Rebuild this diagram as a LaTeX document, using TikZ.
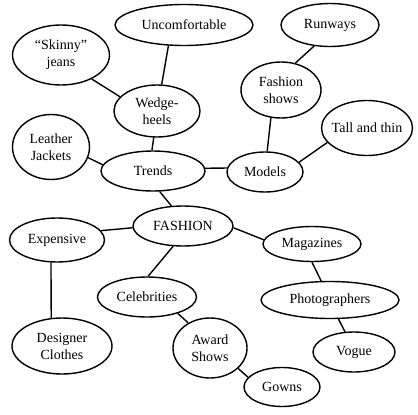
\documentclass[tikz,border=0pt]{standalone}
\usepackage{fontspec}
\setmainfont{Liberation Serif}
\usetikzlibrary{shapes.geometric}

\begin{document}
\begin{tikzpicture}[x=1pt, y=-1pt, line width=1.4pt,
        bubble/.style={ellipse, draw, inner sep=0pt, align=center,
            font=\fontsize{14}{17}\selectfont}]
            \useasboundingbox (0,0) rectangle (418,415);
            % trends branch
            \node[bubble, minimum width=138pt, minimum height=41pt] (unc) at (184,25) {Uncomfortable};
            \node[bubble, minimum width=97pt, minimum height=60pt] (skinny) at (61,55) {“Skinny”\\jeans};
            \node[bubble, minimum width=86pt, minimum height=52pt] (wedge) at (157,111) {Wedge-\\heels};
            \node[bubble, minimum width=77pt, minimum height=65pt] (leather) at (51,147) {Leather\\Jackets};
            \node[bubble, minimum width=104pt, minimum height=40pt] (trends) at (153,171) {Trends};
            % models branch
            \node[bubble, minimum width=98pt, minimum height=43pt] (runways) at (330,25) {Runways};
            \node[bubble, minimum width=80pt, minimum height=56pt] (shows) at (281,90) {Fashion\\shows};
            \node[bubble, minimum width=91pt, minimum height=55pt, inner xsep=-4pt] (tall) at (367,128) {Tall and thin};
            \node[bubble, minimum width=76pt, minimum height=40pt] (models) at (265,172) {Models};
            % centre
            \node[bubble, minimum width=100pt, minimum height=40pt] (fashion) at (183,226) {FASHION};
            % lower half
            \node[bubble, minimum width=95pt, minimum height=44pt] (exp) at (57,240) {Expensive};
            \node[bubble, minimum width=100pt, minimum height=56pt] (designer) at (62,346) {Designer\\Clothes};
            \node[bubble, minimum width=99pt, minimum height=40pt] (celeb) at (147,297) {Celebrities};
            \node[bubble, minimum width=74pt, minimum height=60pt] (award) at (210,348) {Award\\Shows};
            \node[bubble, minimum width=76pt, minimum height=39pt] (gowns) at (282,387) {Gowns};
            \node[bubble, minimum width=98pt, minimum height=35pt] (mag) at (312,244) {Magazines};
            \node[bubble, minimum width=138pt, minimum height=37pt] (photo) at (330,300) {Photographers};
            \node[bubble, minimum width=82pt, minimum height=40pt] (vogue) at (354,352) {Vogue};
            % links
            \foreach \a/\b in {unc.233/wedge.80, skinny.322/wedge.159, wedge.263/trends.93,
                leather.344/trends.173, trends.3/models.174, trends.288/fashion.120,
                models.84/shows.250, shows.62/runways.233, models.16/tall.200,
                fashion.182/exp.12, exp.255/designer.111, fashion.244/celeb.87,
                celeb.332/award.131, award.324/gowns.164, fashion.358/mag.175,
                mag.270/photo.115, photo.294/vogue.114}{
                \draw (\a) -- (\b);
            }
        \end{tikzpicture}
\end{document}
